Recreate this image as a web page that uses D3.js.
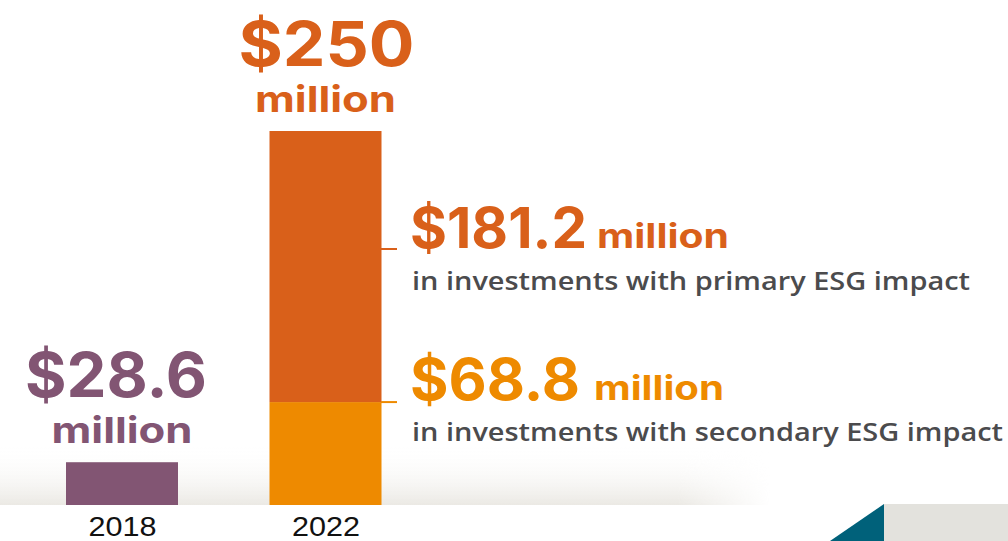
<!DOCTYPE html>
<html><head><meta charset="utf-8">
<script src="https://cdn.jsdelivr.net/npm/d3@7"></script>
<style>body{margin:0;background:#fff;overflow:hidden}svg{display:block}</style>
</head><body>
<script>
// ---- data ----
const years = ["2018", "2022"];
const total2018 = 28.6;
const primary2022 = 181.2;
const secondary2022 = 68.8;
const totalLabels = ["$28.6", "$250"];
const unitLabel = "million";
const segLabels = ["$181.2", "$68.8"];
const segDescriptions = ["in investments with primary ESG impact", "in investments with secondary ESG impact"];

const W = 1008, H = 541;
const svg = d3.select("body").append("svg").attr("width", W).attr("height", H);
const defs = svg.append("defs");

// background shadow band
const vg = defs.append("linearGradient").attr("id", "vg").attr("x1", 0).attr("y1", 0).attr("x2", 0).attr("y2", 1);
vg.append("stop").attr("offset", 0).attr("stop-color", "#ffffff").attr("stop-opacity", 0);
vg.append("stop").attr("offset", 1).attr("stop-color", "#ebe9e4");
const hg = defs.append("linearGradient").attr("id", "hg").attr("x1", 0).attr("y1", 0).attr("x2", 1).attr("y2", 0);
hg.append("stop").attr("offset", 0.88).attr("stop-color", "#fff");
hg.append("stop").attr("offset", 1).attr("stop-color", "#000");
defs.append("mask").attr("id", "hm").attr("maskUnits", "userSpaceOnUse")
  .append("rect").attr("x", 0).attr("y", 440).attr("width", 770).attr("height", 70).attr("fill", "url(#hg)");
svg.append("rect").attr("x", 0).attr("y", 445).attr("width", 770).attr("height", 60)
  .attr("fill", "url(#vg)").attr("mask", "url(#hm)");

// bottom-right decoration
svg.append("rect").attr("x", 884).attr("y", 504).attr("width", 124).attr("height", 37).attr("fill", "#e3e2dd");
svg.append("path").attr("d", "M884,504 L884,541 L830,541 Z").attr("fill", "#00617a");

// scales
const x = d3.scalePoint().domain(years).range([122, 325.5]);
const y = d3.scaleLinear().domain([0, 250]).range([505, 131]);
const bw = 112;

const C = {purple: "#825573", dark: "#d9601a", orange: "#ee8a00", gray: "#4b4b4d"};

// bars
const segs = [
  {year: "2018", y0: 0, y1: total2018, color: C.purple},
  {year: "2022", y0: 0, y1: secondary2022, color: C.orange},
  {year: "2022", y0: secondary2022, y1: secondary2022 + primary2022, color: C.dark}
];
svg.selectAll("rect.bar").data(segs).join("rect").attr("class", "bar")
  .attr("x", d => x(d.year) - bw / 2).attr("width", bw)
  .attr("y", d => y(d.y1)).attr("height", d => y(d.y0) - y(d.y1))
  .attr("fill", d => d.color);

// x axis labels
const axis = d3.axisBottom(x).tickSize(0).tickPadding(0);
const ag = svg.append("g").attr("transform", "translate(0,510)").call(axis);
ag.select(".domain").remove();
ag.selectAll("text").attr("dy", null).attr("y", 26)
  .style("font-family", "'Liberation Sans', Arial, sans-serif").style("font-size", "28px")
  .attr("fill", "#111").attr("textLength", 68).attr("lengthAdjust", "spacingAndGlyphs");

function txt(t, px, py, opt) {
  const e = svg.append("text").text(t).attr("x", px).attr("y", py)
    .attr("text-anchor", opt.anchor || "start")
    .style("font-family", opt.font || "Inter, 'Open Sans', sans-serif")
    .style("font-weight", opt.weight || 700)
    .style("font-size", opt.size + "px")
    .attr("fill", opt.color);
  if (opt.len) e.attr("textLength", opt.len).attr("lengthAdjust", "spacingAndGlyphs");
  return e;
}

// totals above bars
const tot = [total2018, primary2022 + secondary2022];
years.forEach((yr, i) => {
  const col = i === 0 ? C.purple : C.dark;
  const top = y(tot[i]);
  txt(totalLabels[i], x(yr) + (i === 0 ? -6 : 1), top - 65, {anchor: "middle", size: 62, color: col, len: i === 0 ? 182 : 176});
  txt(unitLabel, x(yr), top - 19, {anchor: "middle", size: 36, color: col, len: 141});
});

// segment annotations
const ann = [
  {yLine: 249, base: 248, sub: 290, color: C.dark, numLen: 177, uniX: 597, uniLen: 132, subLen: 558, size: 56},
  {yLine: y(secondary2022), base: 400, sub: 441, color: C.orange, numLen: 170, uniX: 594, uniLen: 130, subLen: 591, size: 58}
];
ann.forEach((a, i) => {
  const x0 = x("2022") + bw / 2 - 0.5;
  svg.append("line").attr("x1", x0).attr("x2", x0 + 16).attr("y1", a.yLine).attr("y2", a.yLine)
    .attr("stroke", a.color).attr("stroke-width", 2);
  txt(segLabels[i], 410, a.base, {size: a.size, color: a.color, len: a.numLen});
  txt(unitLabel, a.uniX, a.base, {size: 34, color: a.color, len: a.uniLen});
  txt(segDescriptions[i], 412, a.sub, {size: 26, color: C.gray, weight: 600, font: "'Open Sans', sans-serif", len: a.subLen});
});
</script>
</body></html>
